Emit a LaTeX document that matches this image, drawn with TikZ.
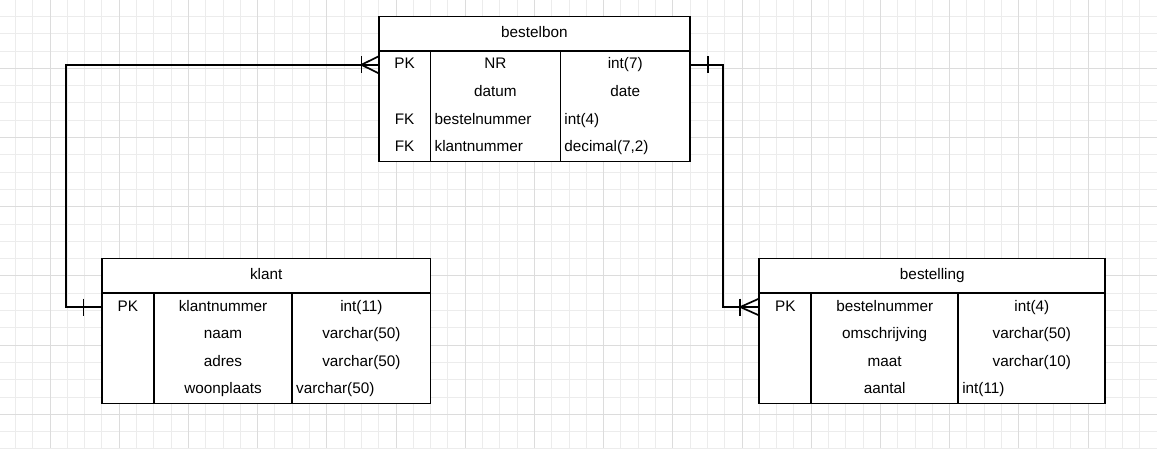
\documentclass[tikz,border=0pt]{standalone}
\usepackage{fontspec}
\setmainfont{Liberation Sans}
\usepackage{xcolor}
\usetikzlibrary{positioning,calc}
\definecolor{gridminorcolor}{RGB}{236,236,236}
\definecolor{gridmajorcolor}{RGB}{220,220,220}

\begin{document}
\begin{tikzpicture}[
    x=1pt, y=-1pt,
    node distance=0pt,
    every node/.style={font=\fontsize{15.3}{18}\selectfont},
    gridminor/.style={draw=gridminorcolor, line width=1pt},
    gridmajor/.style={draw=gridmajorcolor, line width=1pt},
    tablehead/.style={rectangle, draw=black, fill=white, line width=1.7pt, inner sep=0pt, outer sep=0pt, minimum height=34.6pt, text height=11pt, text depth=3pt},
    cell/.style={rectangle, fill=white, inner xsep=4pt, inner ysep=0pt, outer sep=0pt, minimum height=27.6pt, text height=11pt, text depth=3pt},
    keycell/.style={cell, text width=43.9pt, align=center},
    colcell/.style={cell, text width=#1, align=center},
    leftcell/.style={cell, text width=#1, align=left},
    tableline/.style={draw=black, line width=1.7pt},
    relline/.style={draw=black, line width=1.7pt}
]
\useasboundingbox (0,0) rectangle (1157,448);

% Background grid
\foreach \k in {-2,...,64} \draw[gridminor] ({50+\k*17.3},0) -- ({50+\k*17.3},448);
\foreach \k in {-3,...,22} \draw[gridminor] (0,{68.3+\k*17.3}) -- (1157,{68.3+\k*17.3});
\foreach \k in {0,4,...,64} \draw[gridmajor] ({50+\k*17.3},0) -- ({50+\k*17.3},448);
\foreach \k in {0,4,...,20} \draw[gridmajor] (0,{68.3+\k*17.3}) -- (1157,{68.3+\k*17.3});

% Table bestelbon
\node[tablehead, minimum width=311.4pt, anchor=north west] (bestelbon) at (378.7,16.4) {bestelbon};
\node[keycell, anchor=north west] (bestelbon-key1) at (bestelbon.south west) {PK};
\node[colcell=121.75pt, right=of bestelbon-key1] (bestelbon-name1) {NR};
\node[colcell=121.75pt, right=of bestelbon-name1] (bestelbon-type1) {int(7)};
\node[keycell, below=of bestelbon-key1] (bestelbon-key2) {};
\node[colcell=121.75pt, right=of bestelbon-key2] (bestelbon-name2) {datum};
\node[colcell=121.75pt, right=of bestelbon-name2] (bestelbon-type2) {date};
\node[keycell, below=of bestelbon-key2] (bestelbon-key3) {FK};
\node[leftcell=121.75pt, right=of bestelbon-key3] (bestelbon-name3) {bestelnummer};
\node[leftcell=121.75pt, right=of bestelbon-name3] (bestelbon-type3) {int(4)};
\node[keycell, below=of bestelbon-key3] (bestelbon-key4) {FK};
\node[leftcell=121.75pt, right=of bestelbon-key4] (bestelbon-name4) {klantnummer};
\node[leftcell=121.75pt, right=of bestelbon-name4] (bestelbon-type4) {decimal(7,2)};
\draw[tableline] (bestelbon.south west) rectangle (bestelbon-type4.south east);
\draw[tableline] (bestelbon-key1.north east) -- (bestelbon-key4.south east);
\draw[tableline] (bestelbon-name1.north east) -- (bestelbon-name4.south east);

% Table klant
\node[tablehead, minimum width=328.7pt, anchor=north west] (klant) at (101.9,258.6) {klant};
\node[keycell, anchor=north west] (klant-key1) at (klant.south west) {PK};
\node[colcell=130.4pt, right=of klant-key1] (klant-name1) {klantnummer};
\node[colcell=130.4pt, right=of klant-name1] (klant-type1) {int(11)};
\node[keycell, below=of klant-key1] (klant-key2) {};
\node[colcell=130.4pt, right=of klant-key2] (klant-name2) {naam};
\node[colcell=130.4pt, right=of klant-name2] (klant-type2) {varchar(50)};
\node[keycell, below=of klant-key2] (klant-key3) {};
\node[colcell=130.4pt, right=of klant-key3] (klant-name3) {adres};
\node[colcell=130.4pt, right=of klant-name3] (klant-type3) {varchar(50)};
\node[keycell, below=of klant-key3] (klant-key4) {};
\node[colcell=130.4pt, right=of klant-key4] (klant-name4) {woonplaats};
\node[leftcell=130.4pt, right=of klant-name4] (klant-type4) {varchar(50)};
\draw[tableline] (klant.south west) rectangle (klant-type4.south east);
\draw[tableline] (klant-key1.north east) -- (klant-key4.south east);
\draw[tableline] (klant-name1.north east) -- (klant-name4.south east);

% Table bestelling
\node[tablehead, minimum width=346pt, anchor=north west] (bestelling) at (759.3,258.6) {bestelling};
\node[keycell, anchor=north west] (bestelling-key1) at (bestelling.south west) {PK};
\node[colcell=139.05pt, right=of bestelling-key1] (bestelling-name1) {bestelnummer};
\node[colcell=139.05pt, right=of bestelling-name1] (bestelling-type1) {int(4)};
\node[keycell, below=of bestelling-key1] (bestelling-key2) {};
\node[colcell=139.05pt, right=of bestelling-key2] (bestelling-name2) {omschrijving};
\node[colcell=139.05pt, right=of bestelling-name2] (bestelling-type2) {varchar(50)};
\node[keycell, below=of bestelling-key2] (bestelling-key3) {};
\node[colcell=139.05pt, right=of bestelling-key3] (bestelling-name3) {maat};
\node[colcell=139.05pt, right=of bestelling-name3] (bestelling-type3) {varchar(10)};
\node[keycell, below=of bestelling-key3] (bestelling-key4) {};
\node[colcell=139.05pt, right=of bestelling-key4] (bestelling-name4) {aantal};
\node[leftcell=139.05pt, right=of bestelling-name4] (bestelling-type4) {int(11)};
\draw[tableline] (bestelling.south west) rectangle (bestelling-type4.south east);
\draw[tableline] (bestelling-key1.north east) -- (bestelling-key4.south east);
\draw[tableline] (bestelling-name1.north east) -- (bestelling-name4.south east);

% Relations
\coordinate (bendleft) at (66,200);
\coordinate (bendright) at (723.3,200);

% klant (one) to bestelbon (many)
\draw[relline] (bestelbon-key1.west) -| (bendleft) |- (klant-key1.west);
\draw[relline] ($(bestelbon-key1.west)+(-17.3,-8.5)$) -- ($(bestelbon-key1.west)+(-17.3,8.5)$);
\draw[relline] ($(bestelbon-key1.west)+(0,-8.5)$) -- ($(bestelbon-key1.west)+(-17.3,0)$) -- ($(bestelbon-key1.west)+(0,8.5)$);
\draw[relline] ($(klant-key1.west)+(-18.4,-8.5)$) -- ($(klant-key1.west)+(-18.4,8.5)$);

% bestelbon (one) to bestelling (many)
\draw[relline] (bestelbon-type1.east) -| (bendright) |- (bestelling-key1.west);
\draw[relline] ($(bestelbon-type1.east)+(17.7,-8.5)$) -- ($(bestelbon-type1.east)+(17.7,8.5)$);
\draw[relline] ($(bestelling-key1.west)+(-19,-8.5)$) -- ($(bestelling-key1.west)+(-19,8.5)$);
\draw[relline] ($(bestelling-key1.west)+(0,-8.5)$) -- ($(bestelling-key1.west)+(-19,0)$) -- ($(bestelling-key1.west)+(0,8.5)$);

\end{tikzpicture}
\end{document}
